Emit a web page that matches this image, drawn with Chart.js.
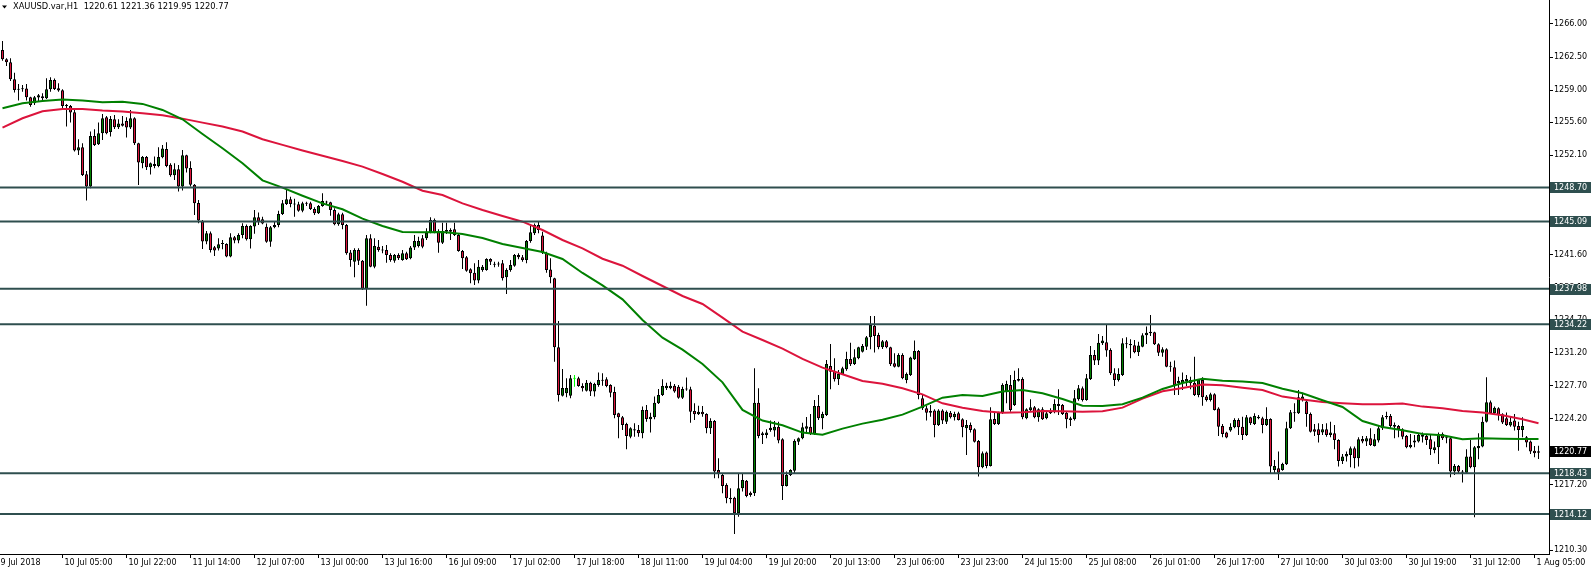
<!DOCTYPE html>
<html>
<head>
<meta charset="utf-8">
<title>XAUUSD.var,H1</title>
<script src="https://cdn.jsdelivr.net/npm/chart.js"></script>
<style>
  html, body { margin: 0; padding: 0; background: #fff; overflow: hidden; }
  canvas { display: block; }
</style>
</head>
<body>
<canvas id="chart" width="1591" height="570"></canvas>
<script>
// H1 candles (bar 0 = first visible bar, 9 Jul)
const opens = [
  1263.25,1262.26,1261.95,1260.15,1259.10,1259.14,1259.16,1258.24,1257.61,1258.21,
  1258.35,1258.14,1259.09,1260.08,1259.20,1258.98,1257.36,1257.32,1256.65,1252.60,
  1252.95,1250.09,1248.79,1254.15,1253.27,1254.43,1256.13,1254.57,1255.91,1255.07,
  1255.46,1255.74,1255.03,1256.02,1253.37,1251.26,1251.93,1250.83,1251.19,1250.97,
  1251.89,1252.77,1251.11,1249.98,1250.62,1248.79,1252.10,1250.76,1248.99,1247.06,
  1245.08,1242.96,1243.85,1242.36,1242.22,1242.74,1242.72,1241.38,1243.42,1243.07,
  1243.67,1244.62,1243.21,1244.55,1245.54,1245.32,1244.54,1242.95,1244.47,1244.72,
  1245.88,1246.94,1247.44,1246.94,1246.91,1246.24,1247.04,1247.01,1246.41,1245.95,
  1246.73,1247.15,1247.12,1246.31,1244.79,1245.85,1244.72,1241.82,1240.84,1242.07,
  1240.94,1237.98,1243.31,1240.31,1242.42,1242.07,1242.07,1241.54,1240.94,1241.54,
  1241.01,1241.72,1241.19,1242.35,1242.49,1243.31,1243.31,1243.91,1245.25,1244.01,
  1242.85,1244.01,1244.19,1244.26,1243.66,1241.97,1241.30,1240.03,1239.67,1238.83,
  1239.95,1239.95,1241.12,1240.59,1240.55,1240.66,1239.18,1239.95,1240.41,1241.54,
  1241.30,1241.01,1243.02,1243.84,1244.72,1243.60,1241.72,1240.02,1239.07,1231.77,
  1226.65,1226.90,1226.65,1228.43,1228.49,1227.68,1227.18,1228.03,1227.08,1227.78,
  1228.31,1228.38,1227.78,1227.04,1224.78,1224.36,1223.65,1222.31,1223.09,1223.02,
  1222.66,1225.13,1224.15,1224.36,1225.84,1226.72,1227.43,1227.43,1227.71,1227.60,
  1226.44,1227.36,1227.32,1225.03,1224.68,1224.96,1224.71,1223.19,1223.97,1218.78,
  1218.25,1217.20,1215.85,1215.85,1214.20,1216.84,1217.65,1216.38,1216.31,1225.91,
  1222.66,1222.49,1223.02,1222.95,1223.37,1222.03,1217.09,1218.25,1218.71,1221.78,
  1222.14,1223.15,1223.37,1222.60,1225.56,1224.25,1224.61,1229.79,1229.30,1228.38,
  1228.95,1229.44,1230.53,1230.01,1230.61,1231.31,1231.84,1232.83,1234.06,1233.07,
  1231.77,1232.40,1231.77,1230.08,1229.72,1230.96,1228.31,1228.84,1230.50,1231.38,
  1226.37,1225.31,1225.03,1225.07,1223.55,1225.07,1223.90,1224.85,1224.36,1224.78,
  1224.15,1223.20,1223.55,1223.09,1221.85,1219.07,1220.62,1219.21,1224.18,1223.65,
  1224.85,1227.08,1227.78,1225.67,1228.24,1228.42,1224.25,1225.14,1225.42,1224.36,
  1225.21,1224.25,1224.78,1224.96,1225.77,1225.67,1224.85,1224.08,1224.15,1226.27,
  1227.43,1226.19,1228.42,1230.96,1230.36,1232.19,1232.30,1231.49,1229.02,1228.31,
  1228.84,1232.19,1232.12,1231.98,1231.24,1231.84,1233.04,1233.25,1233.36,1232.09,
  1231.20,1231.56,1229.79,1229.65,1227.96,1227.96,1228.14,1228.31,1228.03,1226.72,
  1228.31,1226.55,1226.19,1226.79,1225.28,1223.44,1222.74,1222.95,1223.30,1224.08,
  1223.37,1222.49,1224.36,1223.65,1224.43,1224.25,1223.55,1224.18,1218.78,1218.96,
  1218.78,1219.38,1223.20,1224.78,1224.78,1226.19,1226.02,1224.71,1223.09,1223.09,
  1222.74,1223.09,1222.49,1222.67,1221.96,1219.74,1220.20,1220.37,1221.08,1220.02,
  1222.07,1221.79,1222.14,1221.33,1221.89,1223.20,1224.50,1224.50,1223.55,1223.44,
  1223.09,1222.39,1221.19,1221.68,1221.79,1222.49,1222.39,1222.03,1220.90,1221.19,
  1222.60,1222.24,1222.14,1218.61,1219.21,1218.50,1218.50,1220.20,1219.07,1221.08,
  1221.26,1223.90,1225.95,1224.78,1225.31,1224.68,1224.26,1223.48,1224.01,1223.44,
  1223.02,1222.24,1221.79,1220.83,1220.61
];
const highs = [
  1264.21,1262.37,1262.37,1260.85,1259.65,1259.55,1259.65,1258.31,1258.38,1258.60,
  1258.67,1260.25,1260.36,1260.22,1259.72,1259.09,1257.54,1257.43,1256.90,1253.80,
  1253.37,1250.44,1254.61,1254.86,1255.56,1256.48,1256.27,1256.27,1256.37,1255.91,
  1256.27,1256.13,1256.90,1256.13,1253.44,1252.03,1252.03,1251.33,1251.96,1252.95,
  1253.20,1253.48,1251.26,1251.26,1251.08,1252.67,1252.17,1251.47,1249.07,1247.37,
  1245.26,1244.09,1244.02,1242.50,1243.32,1243.14,1242.79,1243.85,1243.56,1243.85,
  1244.90,1244.76,1244.69,1246.32,1246.03,1245.60,1244.89,1244.61,1245.07,1246.24,
  1247.36,1248.49,1247.72,1247.51,1247.19,1247.19,1247.19,1247.19,1246.59,1246.84,
  1248.07,1247.29,1247.19,1246.48,1246.02,1246.02,1244.82,1242.07,1242.25,1242.25,
  1241.01,1243.66,1243.73,1243.31,1243.13,1242.49,1242.60,1241.72,1241.65,1241.72,
  1242.07,1241.90,1242.49,1243.66,1243.48,1243.66,1244.37,1245.53,1245.42,1244.26,
  1244.97,1244.97,1244.37,1244.97,1243.84,1242.07,1241.44,1240.13,1240.66,1241.01,
  1240.48,1241.19,1241.19,1240.84,1240.84,1241.01,1240.13,1241.01,1241.65,1241.72,
  1241.54,1243.13,1244.72,1244.89,1245.07,1244.00,1241.90,1241.19,1239.14,1234.56,
  1229.47,1228.49,1228.84,1228.84,1228.66,1227.96,1228.31,1228.13,1228.03,1229.09,
  1229.02,1228.59,1227.85,1227.60,1224.85,1224.50,1223.79,1223.30,1223.72,1223.55,
  1225.49,1225.66,1224.85,1226.55,1227.36,1228.38,1228.03,1228.13,1227.89,1227.78,
  1227.60,1228.56,1227.60,1225.84,1225.59,1225.56,1224.78,1224.25,1224.08,1220.02,
  1218.43,1217.37,1216.84,1215.96,1218.43,1218.43,1217.72,1216.49,1229.55,1227.43,
  1222.84,1223.09,1224.01,1223.97,1223.90,1222.14,1218.61,1218.85,1222.03,1222.21,
  1223.79,1224.40,1224.71,1226.19,1226.72,1224.96,1230.43,1232.12,1230.61,1229.37,
  1229.72,1231.31,1232.26,1231.56,1231.84,1232.12,1232.97,1235.09,1235.09,1233.32,
  1232.55,1232.55,1231.84,1231.13,1231.13,1231.13,1229.09,1230.78,1232.48,1231.49,
  1226.83,1225.56,1225.67,1225.21,1225.21,1225.21,1225.07,1225.03,1224.96,1224.96,
  1224.25,1224.08,1223.80,1223.20,1221.96,1220.73,1220.73,1225.42,1224.96,1224.96,
  1227.96,1228.24,1228.84,1229.30,1229.55,1228.59,1225.31,1226.27,1225.56,1225.31,
  1225.42,1224.96,1225.31,1226.27,1227.32,1225.77,1224.96,1224.43,1227.25,1227.78,
  1227.61,1228.95,1231.91,1231.49,1233.18,1232.97,1234.13,1231.66,1229.55,1229.55,
  1232.72,1232.83,1232.62,1232.55,1232.37,1233.25,1233.96,1235.19,1233.43,1232.19,
  1231.77,1231.66,1230.25,1230.36,1228.66,1229.09,1228.84,1228.66,1230.78,1228.38,
  1228.59,1226.72,1226.97,1226.90,1225.42,1223.65,1222.84,1223.72,1224.25,1224.25,
  1224.43,1224.61,1224.43,1224.78,1224.61,1224.43,1225.42,1224.25,1219.84,1220.73,
  1219.56,1223.90,1225.14,1225.84,1227.25,1226.97,1226.27,1224.86,1223.66,1223.73,
  1223.66,1223.73,1223.90,1223.55,1222.03,1220.48,1220.73,1221.26,1221.26,1222.24,
  1222.39,1222.39,1223.20,1222.60,1223.44,1224.61,1224.96,1224.71,1223.80,1223.55,
  1223.20,1222.49,1222.60,1222.49,1222.60,1222.74,1222.49,1222.49,1221.79,1222.74,
  1222.74,1222.31,1222.24,1219.42,1219.32,1218.79,1220.97,1221.96,1221.33,1222.67,
  1224.43,1228.60,1226.13,1225.49,1225.42,1224.78,1224.86,1224.50,1224.71,1223.90,
  1224.36,1222.39,1221.89,1221.33,1221.36
];
const lows = [
  1262.12,1261.56,1259.97,1258.74,1257.89,1258.84,1257.89,1257.25,1257.43,1257.75,
  1257.96,1258.07,1258.84,1259.02,1258.84,1257.08,1255.14,1255.56,1252.49,1252.14,
  1249.92,1247.30,1248.61,1253.09,1253.20,1253.73,1254.33,1254.08,1254.89,1254.89,
  1255.14,1253.97,1254.89,1253.20,1248.96,1250.73,1250.55,1250.06,1250.73,1250.83,
  1251.79,1250.83,1249.84,1249.49,1248.26,1248.36,1250.27,1248.79,1245.79,1244.90,
  1242.19,1242.68,1241.80,1241.45,1242.01,1242.15,1241.31,1241.31,1242.79,1242.79,
  1243.32,1243.07,1242.22,1243.78,1244.73,1244.80,1242.85,1242.42,1244.37,1244.47,
  1245.78,1246.84,1246.59,1245.60,1246.13,1246.06,1246.73,1246.31,1245.78,1245.88,
  1246.66,1246.84,1245.71,1244.68,1244.65,1244.26,1241.58,1240.31,1239.18,1240.48,
  1237.84,1236.18,1240.24,1240.13,1241.90,1241.72,1240.73,1240.84,1240.73,1241.01,
  1240.94,1241.01,1241.08,1242.07,1242.35,1242.25,1243.13,1243.84,1243.84,1241.79,
  1242.71,1243.77,1243.13,1243.55,1241.90,1240.06,1239.78,1238.54,1238.37,1238.54,
  1239.78,1239.88,1240.48,1240.24,1240.31,1238.83,1237.41,1239.78,1240.31,1241.08,
  1240.84,1240.66,1242.85,1243.66,1243.84,1241.65,1239.67,1238.54,1230.25,1226.02,
  1226.55,1226.48,1226.37,1227.60,1227.60,1227.08,1227.08,1226.62,1226.55,1227.60,
  1227.71,1227.53,1226.48,1224.25,1222.14,1223.02,1220.97,1222.14,1222.31,1222.31,
  1222.14,1223.90,1222.74,1224.15,1225.77,1226.62,1227.25,1227.32,1226.97,1226.33,
  1226.30,1227.18,1223.79,1224.08,1224.61,1224.43,1222.66,1222.59,1217.90,1217.90,
  1216.31,1215.25,1215.25,1212.00,1213.84,1216.49,1215.89,1215.96,1216.03,1222.14,
  1221.53,1222.14,1222.84,1222.31,1221.60,1215.61,1217.02,1218.15,1218.43,1221.43,
  1222.03,1222.60,1222.49,1222.49,1224.08,1223.09,1224.50,1227.32,1228.14,1227.78,
  1228.84,1229.30,1229.79,1229.90,1230.50,1231.21,1231.49,1231.56,1231.21,1231.56,
  1231.59,1231.66,1229.79,1229.62,1229.65,1228.38,1227.96,1228.73,1230.43,1226.27,
  1225.14,1224.01,1224.43,1222.24,1223.44,1223.65,1223.65,1224.22,1224.01,1224.01,
  1222.24,1220.37,1222.74,1221.68,1218.08,1218.96,1218.96,1219.14,1223.55,1223.55,
  1224.71,1225.84,1224.96,1225.56,1228.14,1224.15,1224.15,1224.96,1224.25,1223.90,
  1224.08,1224.15,1224.71,1224.78,1224.61,1224.61,1223.20,1223.44,1224.01,1226.12,
  1226.02,1226.12,1228.31,1229.90,1229.90,1232.02,1230.78,1228.84,1227.68,1228.14,
  1228.73,1231.66,1230.61,1231.13,1230.85,1231.77,1232.12,1232.97,1232.02,1230.85,
  1230.78,1229.65,1229.19,1226.72,1226.72,1227.25,1227.68,1227.32,1226.62,1226.48,
  1225.59,1226.02,1226.02,1225.07,1222.38,1222.24,1222.14,1222.84,1223.20,1222.49,
  1221.96,1222.38,1223.55,1223.55,1224.15,1222.67,1223.44,1218.43,1218.43,1217.73,
  1218.71,1219.31,1223.13,1223.90,1224.71,1226.02,1223.37,1222.74,1222.39,1221.68,
  1222.49,1222.31,1222.24,1220.97,1219.14,1219.42,1219.67,1219.07,1218.96,1219.14,
  1221.61,1221.33,1221.33,1221.26,1221.68,1223.02,1224.15,1223.20,1222.14,1222.24,
  1222.03,1221.08,1221.08,1221.19,1221.68,1221.68,1221.43,1220.37,1220.55,1219.42,
  1221.96,1221.61,1218.01,1218.26,1218.43,1217.45,1218.43,1218.96,1213.78,1219.92,
  1221.19,1223.80,1224.71,1224.61,1224.01,1223.66,1223.44,1223.37,1222.95,1220.83,
  1222.24,1221.19,1220.48,1220.13,1219.95
];
const closes = [
  1262.26,1261.95,1260.15,1259.02,1259.05,1259.10,1258.24,1257.43,1258.24,1258.45,
  1258.14,1259.09,1260.08,1259.12,1258.95,1257.32,1257.32,1256.62,1252.60,1252.95,
  1250.02,1248.79,1254.15,1253.20,1254.43,1256.02,1254.43,1255.95,1255.07,1255.46,
  1255.24,1255.03,1256.02,1253.37,1251.33,1251.93,1250.83,1251.26,1250.97,1251.93,
  1252.81,1250.97,1249.98,1250.62,1248.79,1252.10,1250.69,1248.99,1247.02,1245.19,
  1242.96,1243.85,1242.08,1242.01,1242.68,1242.70,1241.38,1243.42,1243.07,1243.67,
  1244.62,1243.21,1244.62,1245.54,1245.08,1244.89,1242.95,1244.47,1244.72,1245.88,
  1247.01,1247.44,1246.94,1246.88,1246.24,1247.01,1246.98,1246.41,1245.95,1246.73,
  1247.26,1247.10,1246.31,1244.79,1245.85,1244.72,1241.72,1241.01,1242.07,1240.94,
  1237.98,1243.31,1240.31,1242.49,1242.07,1242.01,1241.54,1241.01,1241.54,1241.19,
  1241.72,1241.08,1242.35,1243.02,1243.02,1242.42,1243.91,1245.25,1243.91,1242.85,
  1244.08,1244.19,1244.01,1243.66,1241.97,1241.19,1239.88,1239.60,1238.83,1240.31,
  1240.31,1241.12,1240.84,1240.52,1240.62,1239.07,1239.95,1240.48,1241.54,1241.30,
  1241.01,1243.02,1243.94,1244.72,1244.19,1241.79,1239.95,1239.18,1231.77,1226.72,
  1227.46,1227.46,1228.49,1228.43,1227.68,1227.43,1228.03,1227.08,1227.89,1228.31,
  1228.24,1227.68,1226.97,1224.61,1224.36,1223.55,1222.38,1223.19,1222.95,1222.66,
  1225.13,1224.18,1224.43,1225.91,1226.72,1227.68,1227.71,1227.71,1227.08,1226.44,
  1227.36,1227.30,1224.96,1224.68,1224.96,1224.68,1223.19,1223.97,1218.61,1218.43,
  1217.09,1215.78,1215.68,1214.20,1216.84,1217.72,1216.03,1216.14,1225.91,1222.38,
  1222.49,1222.74,1223.26,1223.37,1221.89,1217.09,1218.25,1218.78,1221.85,1222.14,
  1223.30,1223.40,1222.60,1225.56,1224.25,1224.71,1230.01,1229.19,1228.38,1228.95,
  1229.55,1230.53,1229.97,1230.71,1231.77,1231.91,1232.83,1234.13,1232.97,1231.77,
  1232.40,1231.77,1229.97,1229.72,1230.96,1228.49,1228.95,1230.68,1231.38,1226.72,
  1225.31,1224.85,1224.85,1223.55,1225.07,1224.01,1224.96,1224.36,1224.71,1224.08,
  1223.30,1223.55,1223.02,1221.78,1219.07,1220.55,1219.21,1224.15,1223.65,1224.85,
  1227.78,1227.89,1225.14,1228.31,1228.42,1224.36,1225.21,1225.42,1224.36,1225.21,
  1224.15,1224.78,1224.96,1225.77,1225.56,1224.71,1224.15,1224.25,1226.37,1227.43,
  1226.19,1228.49,1230.96,1230.36,1232.26,1232.48,1231.42,1229.02,1228.31,1228.95,
  1232.19,1232.09,1231.98,1231.24,1231.95,1233.04,1233.32,1233.43,1232.09,1231.20,
  1231.56,1229.72,1229.72,1227.78,1228.21,1228.31,1228.42,1227.96,1226.72,1228.31,
  1226.48,1226.19,1226.79,1225.14,1223.37,1222.60,1222.21,1223.37,1224.08,1223.30,
  1222.49,1224.36,1223.72,1224.50,1224.25,1223.55,1224.18,1219.14,1219.21,1218.50,
  1219.42,1223.20,1224.89,1224.89,1226.48,1226.55,1224.71,1222.84,1222.84,1222.49,
  1223.09,1222.49,1222.74,1221.96,1219.74,1220.20,1220.48,1221.08,1220.02,1222.03,
  1221.79,1222.14,1221.43,1222.03,1223.20,1224.36,1224.36,1223.44,1223.37,1223.09,
  1222.31,1221.19,1221.43,1221.89,1222.49,1222.31,1221.96,1220.97,1221.19,1222.60,
  1222.14,1222.14,1218.61,1219.21,1218.61,1218.61,1220.20,1219.07,1221.19,1221.33,
  1223.90,1225.95,1224.78,1225.38,1224.61,1223.80,1223.55,1223.90,1223.37,1223.02,
  1223.44,1221.68,1220.73,1220.55,1220.77
];

// moving averages at these bars
const maBars = [
  0,5,10,15,20,25,30,35,40,45,50,55,60,65,70,75,80,85,90,95,
  100,105,110,115,120,125,130,135,140,145,150,155,160,165,170,175,180,185,190,195,
  200,205,210,215,220,225,230,235,240,245,250,255,260,265,270,275,280,285,290,295,
  300,305,310,315,320,325,330,335,340,345,350,355,360,365,370,375,380,384
];
const fastMa = [
  1257.08,1257.61,1257.85,1258.00,1257.89,1257.71,1257.78,1257.54,1256.90,1255.91,
  1254.36,1252.84,1251.26,1249.45,1248.67,1247.82,1247.01,1246.38,1245.39,1244.61,
  1243.98,1243.94,1243.98,1243.77,1243.34,1242.71,1242.28,1241.86,1241.12,1239.64,
  1238.33,1236.85,1234.66,1232.79,1231.52,1230.00,1228.06,1225.14,1224.01,1223.51,
  1222.74,1222.52,1223.16,1223.69,1224.11,1224.64,1225.49,1226.44,1226.72,1226.62,
  1227.08,1227.25,1226.90,1226.30,1225.59,1225.56,1225.74,1226.44,1227.36,1227.99,
  1228.45,1228.24,1228.14,1227.99,1227.39,1226.90,1226.16,1225.45,1223.97,1223.34,
  1222.98,1222.60,1222.46,1222.03,1222.14,1222.10,1222.07,1222.07
];
const slowMa = [
  1255.03,1256.02,1256.76,1257.01,1257.01,1256.83,1256.73,1256.55,1256.34,1255.98,
  1255.56,1255.14,1254.61,1253.80,1253.20,1252.60,1252.05,1251.50,1250.90,1250.12,
  1249.30,1248.35,1247.89,1247.01,1246.31,1245.67,1245.07,1244.19,1243.13,1242.25,
  1241.15,1240.41,1239.32,1238.26,1237.20,1236.36,1234.91,1233.43,1232.54,1231.63,
  1230.55,1229.62,1228.91,1228.21,1227.92,1227.43,1226.79,1225.84,1225.38,1225.03,
  1224.85,1224.89,1225.03,1224.99,1224.96,1224.99,1225.38,1226.34,1227.11,1227.46,
  1227.82,1227.75,1227.50,1227.25,1226.55,1226.25,1225.98,1225.84,1225.74,1225.74,
  1225.81,1225.49,1225.31,1225.03,1224.86,1224.57,1224.15,1223.73
];

// horizontal support / resistance levels
const levels = [1248.70, 1245.09, 1237.98, 1234.22, 1218.43, 1214.12];

// axis labels
const priceTicks = [1266.00,1262.50,1259.00,1255.60,1252.10,1248.60,1245.10,1241.60,1238.10,
  1234.70,1231.20,1227.70,1224.20,1220.70,1217.20,1213.70,1210.30];
const timeLabels = ['9 Jul 2018','10 Jul 05:00','10 Jul 22:00','11 Jul 14:00','12 Jul 07:00',
  '13 Jul 00:00','13 Jul 16:00','16 Jul 09:00','17 Jul 02:00','17 Jul 18:00','18 Jul 11:00',
  '19 Jul 04:00','19 Jul 20:00','20 Jul 13:00','23 Jul 06:00','23 Jul 23:00','24 Jul 15:00',
  '25 Jul 08:00','26 Jul 01:00','26 Jul 17:00','27 Jul 10:00','30 Jul 03:00','30 Jul 19:00',
  '31 Jul 12:00','1 Aug 05:00'];
const timeLabelBars = [-1,15,31,47,63,79,95,111,127,143,159,175,191,207,223,239,255,271,
  287,303,319,335,351,367,383];

// view window
const firstBar = -0.625, lastBar = 386.625;
const priceLow = 1209.886, priceHigh = 1268.541;

const bullColor = 'rgb(0,128,0)';
const bearColor = 'rgb(220,20,60)';
const dojiColor = 'rgb(0,255,0)';
const levelColor = 'rgb(47,79,79)';
const font = "'DejaVu Sans', sans-serif";

function candleColor(i) {
  if (closes[i] > opens[i]) return bullColor;
  if (closes[i] < opens[i]) return bearColor;
  return dojiColor;
}

const wickData = opens.map((o, i) => ({x: i, y: [lows[i], highs[i]]}));
const bodyData = opens.map((o, i) => ({x: i, y: [o, closes[i]]}));

const levelSets = levels.map(v => ({
  type: 'line',
  data: [{x: firstBar, y: v}, {x: lastBar, y: v}],
  borderColor: levelColor,
  borderWidth: 2,
  pointRadius: 0,
  order: 0
}));

const tagsPlugin = {
  id: 'mt4tags',
  afterDraw(chart) {
    const ctx = chart.ctx;
    const y = chart.scales.y;
    ctx.save();
    ctx.font = '8px ' + font;
    ctx.textBaseline = 'middle';
    const tag = (v, bg) => {
      const py = y.getPixelForValue(v);
      ctx.fillStyle = bg;
      ctx.fillRect(y.left + 1, Math.round(py) - 5, y.width - 1, 11);
      ctx.fillStyle = '#fff';
      ctx.fillText(v.toFixed(2), y.left + 5, py + 0.5);
    };
    levels.forEach(v => tag(v, levelColor));
    const last = closes.length - 1;
    tag(closes[last], '#000');

    // header: symbol, timeframe and last bar OHLC
    ctx.fillStyle = '#000';
    ctx.beginPath();
    ctx.moveTo(2, 5.5);
    ctx.lineTo(7, 5.5);
    ctx.lineTo(4.5, 8.5);
    ctx.closePath();
    ctx.fill();
    ctx.font = '8.3px ' + font;
    const head = 'XAUUSD.var,H1  ' + [opens[last], highs[last], lows[last], closes[last]]
      .map(v => v.toFixed(2)).join(' ');
    ctx.fillText(head, 13, 7);
    ctx.restore();
  }
};

new Chart(document.getElementById('chart'), {
  type: 'bar',
  data: {
    datasets: [
      ...levelSets,
      {
        type: 'line', data: maBars.map((b, k) => ({x: b, y: fastMa[k]})),
        borderColor: bullColor, borderWidth: 2, pointRadius: 0, tension: 0, order: 1
      },
      {
        type: 'line', data: maBars.map((b, k) => ({x: b, y: slowMa[k]})),
        borderColor: bearColor, borderWidth: 2, pointRadius: 0, tension: 0, order: 2
      },
      {
        data: bodyData,
        backgroundColor: ctx => candleColor(ctx.dataIndex),
        borderColor: ctx => candleColor(ctx.dataIndex) === dojiColor ? dojiColor : '#000',
        borderWidth: 1, borderSkipped: false, barThickness: 3, minBarLength: 1,
        inflateAmount: 0, grouped: false, order: 3
      },
      {
        data: wickData,
        backgroundColor: ctx => candleColor(ctx.dataIndex) === dojiColor ? dojiColor : '#000',
        borderWidth: 0, barThickness: 1, inflateAmount: 0, grouped: false, order: 4
      }
    ]
  },
  options: {
    responsive: false,
    animation: false,
    events: [],
    layout: { padding: 0 },
    plugins: { legend: { display: false }, tooltip: { enabled: false } },
    scales: {
      x: {
        type: 'linear', min: firstBar, max: lastBar, offset: false,
        grid: { drawOnChartArea: false, offset: false, tickLength: 4, color: '#000' },
        border: { display: true, color: '#000', width: 1 },
        ticks: {
          autoSkip: false, maxRotation: 0, minRotation: 0, align: 'start',
          labelOffset: 2, padding: 0, color: '#000', font: { family: font, size: 8 },
          callback: (v, k) => timeLabels[k]
        },
        afterBuildTicks: s => { s.ticks = timeLabelBars.map(v => ({value: v})); },
        afterFit: s => { s.height = 16; s.paddingLeft = 0; s.paddingRight = 0; }
      },
      y: {
        type: 'linear', position: 'right', min: priceLow, max: priceHigh,
        grid: { drawOnChartArea: false, tickLength: 4, color: '#000' },
        border: { display: true, color: '#000', width: 1 },
        ticks: {
          autoSkip: false, padding: 1, color: '#000', font: { family: font, size: 8 },
          callback: v => v.toFixed(2)
        },
        afterBuildTicks: s => { s.ticks = priceTicks.map(v => ({value: v})); },
        afterFit: s => { s.width = 42; s.paddingTop = 0; s.paddingBottom = 0; }
      }
    }
  },
  plugins: [tagsPlugin]
});
</script>
</body>
</html>
